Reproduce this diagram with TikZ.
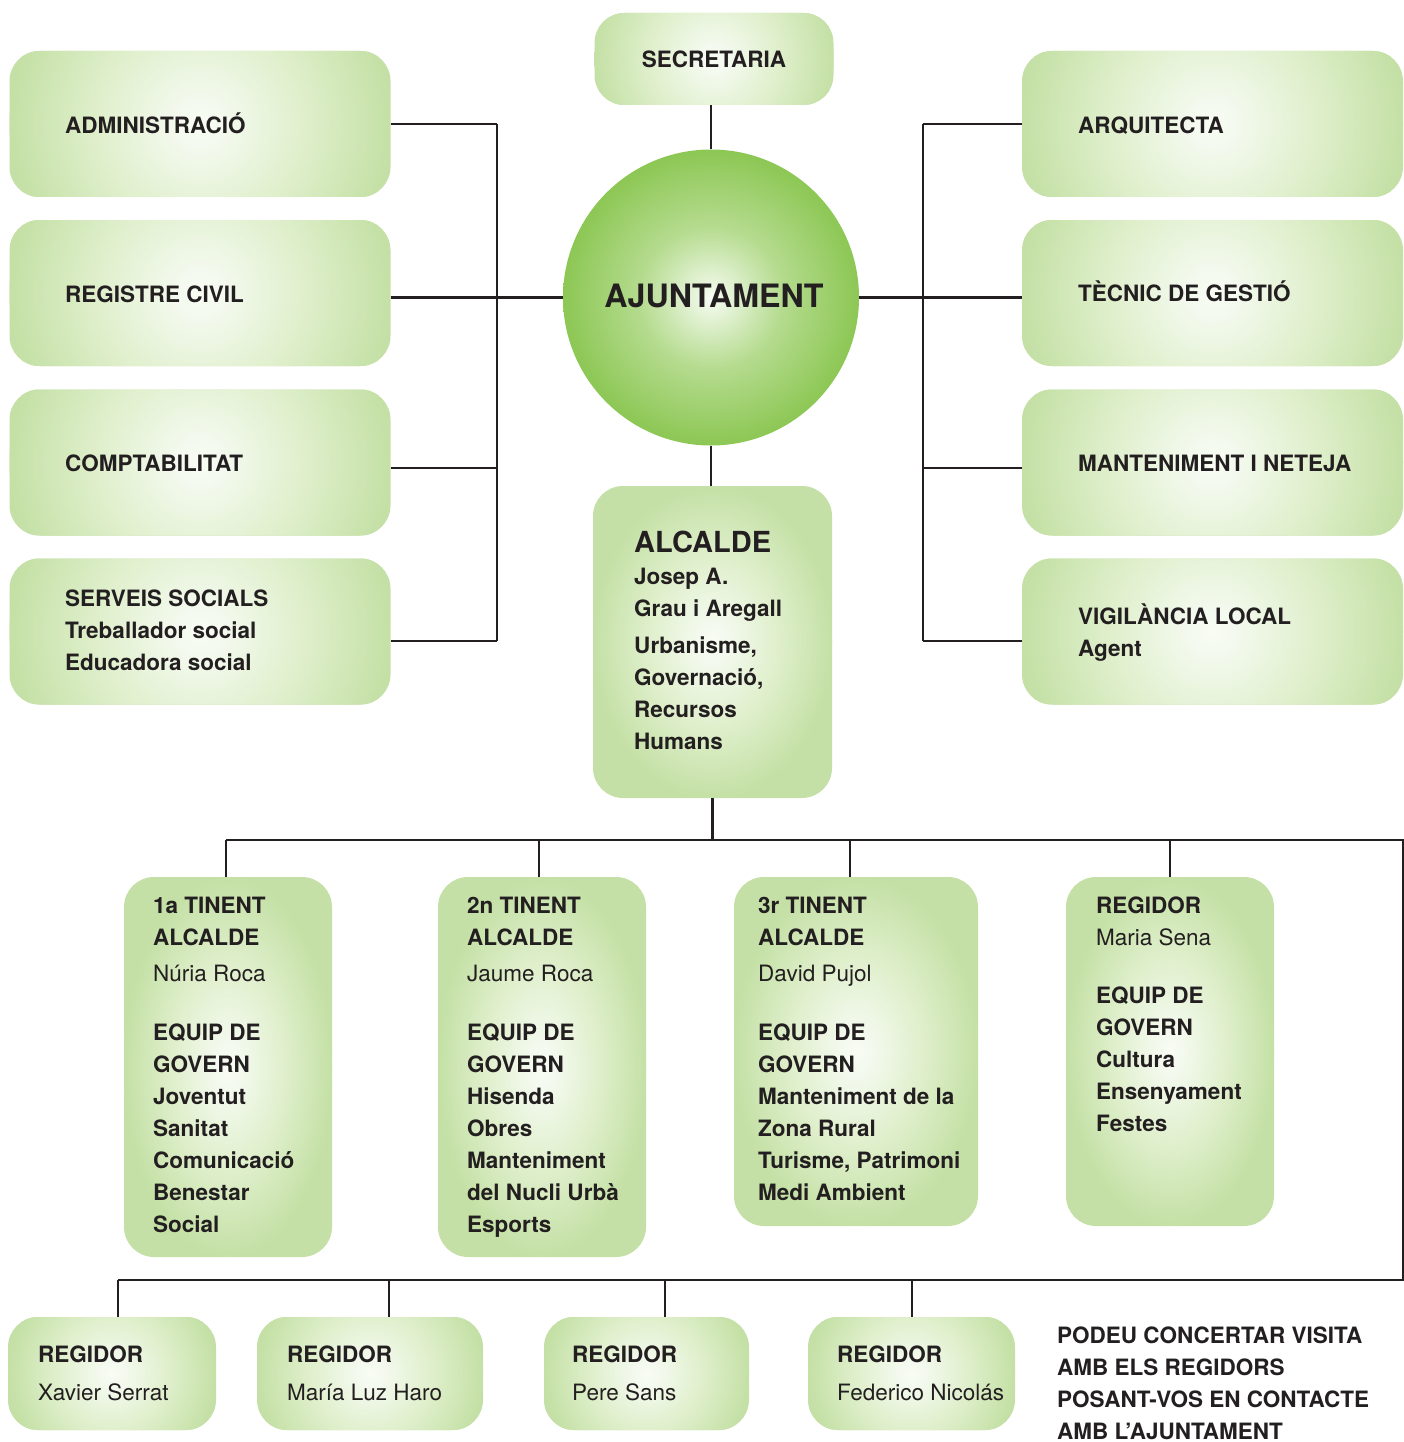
\documentclass[tikz,border=0pt]{standalone}
\usepackage{fontspec}
\setmainfont{TeX Gyre Heros}
\definecolor{ink}{HTML}{231F20}
\definecolor{boxout}{rgb}{0.77,0.88,0.65}
\pgfdeclareradialshading{boxshade}{\pgfpoint{0bp}{0bp}}{rgb(0bp)=(0.975,0.99,0.955); rgb(3bp)=(0.955,0.978,0.935); rgb(13bp)=(0.88,0.94,0.805); rgb(25bp)=(0.77,0.88,0.65); rgb(50bp)=(0.77,0.88,0.65)}
\pgfdeclareradialshading{ballshade}{\pgfpoint{0bp}{0bp}}{rgb(0bp)=(0.975,0.99,0.955); rgb(3bp)=(0.90,0.955,0.85); rgb(12bp)=(0.71,0.86,0.56); rgb(25bp)=(0.55,0.78,0.33); rgb(50bp)=(0.55,0.78,0.33)}
\newcommand\fstr{\rule{0pt}{24pt}}
\tikzset{
  gbox/.style 2 args={draw=none, fill=boxout, rounded corners=30pt, minimum width=#1pt, minimum height=#2pt, inner sep=0pt,
    path picture={\path[shading=boxshade] (path picture bounding box.center) ellipse[x radius={#1*0.5pt}, y radius={max(#1,#2)*0.5pt}];}},
  txt/.style={anchor=north west, inner sep=0pt, align=left, text=ink, font=\fontsize{22.5}{32}\selectfont\bfseries},
  ctxt/.style={anchor=base, inner sep=0pt, text=ink, font=\fontsize{22.5}{32}\selectfont\bfseries},
  conn/.style={draw=ink, line width=2.5pt, line join=miter},
}
\begin{document}
\begin{tikzpicture}[x=1pt,y=-1pt]
\useasboundingbox (0,0) rectangle (1404,1442);
% left boxes
\node[gbox={381}{146}] (L1) at (200,124) {};
\node[gbox={381}{146}] (L2) at (200,293) {};
\node[gbox={381}{146}] (L3) at (200,462.5) {};
\node[gbox={381}{146}] (L4) at (200,631.5) {};
% right boxes
\node[gbox={381}{146}] (R1) at (1212.5,124) {};
\node[gbox={381}{146}] (R2) at (1212.5,293) {};
\node[gbox={381}{146}] (R3) at (1212.5,462.5) {};
\node[gbox={381}{146}] (R4) at (1212.5,631.5) {};
% centre column
\node[gbox={239}{92}] (SEC) at (714,59) {};
\node[circle, minimum size=296pt, inner sep=0pt, shading=ballshade] (CIRC) at (711,297.5) {};
\node[gbox={239}{312}] (ALC) at (712.5,642) {};
% middle row
\node[gbox={208}{380}] (M1) at (228,1067) {};
\node[gbox={208}{380}] (M2) at (542,1067) {};
\node[gbox={244}{349}] (M3) at (856,1051.5) {};
\node[gbox={208}{349}] (M4) at (1170,1051.5) {};
% bottom row
\node[gbox={208}{113}] (B1) at (112,1373.5) {};
\node[gbox={226}{113}] (B2) at (370,1373.5) {};
\node[gbox={205}{113}] (B3) at (646.5,1373.5) {};
\node[gbox={207}{113}] (B4) at (911.5,1373.5) {};

% texts
\node[txt] (tL1) at (65,109) {\fstr ADMINISTRACIÓ};
\node[txt] (tL2) at (65,278) {\fstr REGISTRE CIVIL};
\node[txt] (tL3) at (65,447) {\fstr COMPTABILITAT};
\node[txt] (tL4) at (65,582) {\fstr SERVEIS SOCIALS\\Treballador social\\Educadora social};
\node[txt] (tR1) at (1078,109) {\fstr ARQUITECTA};
\node[txt] (tR2) at (1078,277) {\fstr TÈCNIC DE GESTIÓ};
\node[txt] (tR3) at (1078,447) {\fstr MANTENIMENT I NETEJA};
\node[txt] (tR4) at (1078,600) {\fstr VIGILÀNCIA LOCAL\\Agent};
\node[ctxt] (tSEC) at (714,68) {SECRETARIA};
\node[ctxt, font=\fontsize{32.2}{36}\selectfont\bfseries] (tCIRC) at (714,307) {AJUNTAMENT};
\node[txt] (tALC) at (634,528) {\fstr{\fontsize{29}{32}\selectfont ALCALDE}\\Josep A.\\Grau i Aregall\\[5pt]Urbanisme,\\Governació,\\Recursos\\Humans};
\node[txt] (tM1) at (153,889) {\fstr 1a TINENT\\ALCALDE\\[4pt]{\mdseries Núria Roca}\\[27pt]EQUIP DE\\GOVERN\\Joventut\\Sanitat\\Comunicació\\Benestar\\Social};
\node[txt] (tM2) at (467,889) {\fstr 2n TINENT\\ALCALDE\\[4pt]{\mdseries Jaume Roca}\\[27pt]EQUIP DE\\GOVERN\\Hisenda\\Obres\\Manteniment\\del Nucli Urbà\\Esports};
\node[txt] (tM3) at (758,889) {\fstr 3r TINENT\\ALCALDE\\[4pt]{\mdseries David Pujol}\\[27pt]EQUIP DE\\GOVERN\\Manteniment de la\\Zona Rural\\Turisme, Patrimoni\\Medi Ambient};
\node[txt] (tM4) at (1096,889) {\fstr REGIDOR\\{\mdseries Maria Sena}\\[26pt]EQUIP DE\\GOVERN\\Cultura\\Ensenyament\\Festes};
\node[txt] (tB1) at (38,1338) {\fstr REGIDOR\\[6pt]{\mdseries Xavier Serrat}};
\node[txt] (tB2) at (287,1338) {\fstr REGIDOR\\[6pt]{\mdseries María Luz Haro}};
\node[txt] (tB3) at (572,1338) {\fstr REGIDOR\\[6pt]{\mdseries Pere Sans}};
\node[txt] (tB4) at (837,1338) {\fstr REGIDOR\\[6pt]{\mdseries Federico Nicolás}};
\node[txt, font=\fontsize{22.5}{32}\selectfont\bfseries] (note) at (1057,1319) {\fstr PODEU CONCERTAR VISITA\\AMB ELS REGIDORS\\POSANT-VOS EN CONTACTE\\AMB L’AJUNTAMENT};

% connector coordinates
\coordinate (lb1) at (497,124);
\coordinate (lb3) at (497,468);
\coordinate (lb4) at (497,641);
\coordinate (rb1) at (923,124);
\coordinate (rb3) at (923,468);
\coordinate (rb4) at (923,641);
\coordinate (tb1) at (226,840);
\coordinate (tb2) at (539,840);
\coordinate (tb3) at (850,840);
\coordinate (tb4) at (1170,840);
\coordinate (tbR) at (1403,840);
\coordinate (bbR) at (1403,1280);
\coordinate (bb1) at (118,1280);
\coordinate (bb2) at (389,1280);
\coordinate (bb3) at (665,1280);
\coordinate (bb4) at (912,1280);

% left side
\draw[conn] (lb1) -- (lb4);
\draw[conn] (L1.east |- lb1) -- (lb1);
\draw[conn] (L2.east |- CIRC.west) -- (CIRC.west);
\draw[conn] (L3.east |- lb3) -- (lb3);
\draw[conn] (L4.east |- lb4) -- (lb4);
% right side
\draw[conn] (rb1) -- (rb4);
\draw[conn] (R1.west |- rb1) -- (rb1);
\draw[conn] (R2.west |- CIRC.east) -- (CIRC.east);
\draw[conn] (R3.west |- rb3) -- (rb3);
\draw[conn] (R4.west |- rb4) -- (rb4);
% centre
\draw[conn] (CIRC.north |- SEC.south) -- (CIRC.north);
\draw[conn] (CIRC.south) -- (CIRC.south |- ALC.north);
\draw[conn] (ALC.south) -- (ALC.south |- tb1);
% buses
\draw[conn] (tb1) -- (tbR) -- (bbR) -- (bb1);
\draw[conn] (tb1) -- (tb1 |- M1.north);
\draw[conn] (tb2) -- (tb2 |- M2.north);
\draw[conn] (tb3) -- (tb3 |- M3.north);
\draw[conn] (tb4) -- (tb4 |- M4.north);
\draw[conn] (bb1) -- (bb1 |- B1.north);
\draw[conn] (bb2) -- (bb2 |- B2.north);
\draw[conn] (bb3) -- (bb3 |- B3.north);
\draw[conn] (bb4) -- (bb4 |- B4.north);
\end{tikzpicture}
\end{document}
